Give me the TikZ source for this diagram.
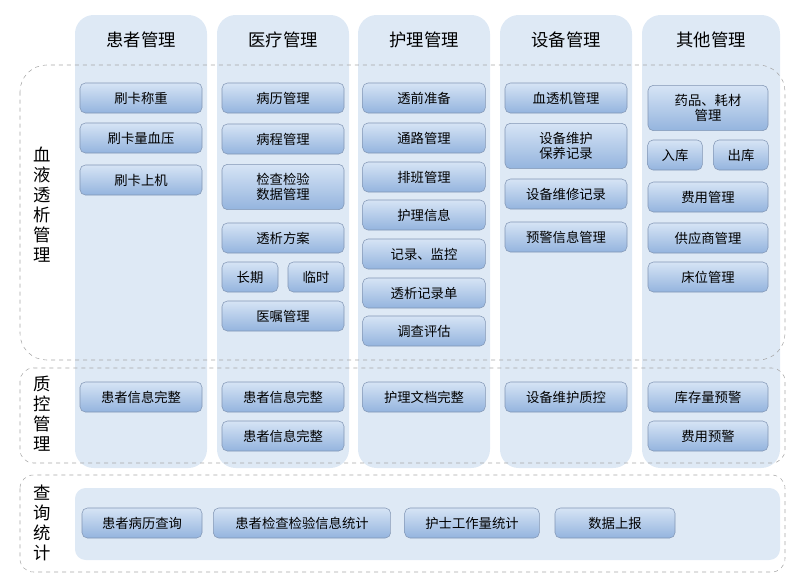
\documentclass[tikz,border=0pt]{standalone}
\usepackage{fontspec}
\setmainfont{Noto Sans CJK SC}
\usetikzlibrary{positioning}
\definecolor{colbg}{RGB}{222,233,245}
\definecolor{boxtop}{RGB}{214,228,245}
\definecolor{boxbot}{RGB}{148,180,222}
\definecolor{boxdraw}{RGB}{130,150,180}
\tikzset{
  item/.style={draw=boxdraw, rounded corners=4pt, top color=boxtop, bottom color=boxbot,
    minimum height=22.5pt, align=center, font=\fontsize{10}{11}\selectfont, inner sep=1pt},
  tallitem/.style={item, minimum height=34pt},
  column/.style={fill=colbg, rounded corners=14pt},
  region/.style={draw=gray!70, dashed, rounded corners=20pt},
  head/.style={font=\fontsize{13}{14}\selectfont},
  side/.style={font=\fontsize{13}{15}\selectfont, align=center, text width=14pt}
}
\begin{document}
\begin{tikzpicture}[x=0.75pt,y=0.75pt,yscale=-1,xscale=1]
\useasboundingbox (0,0) rectangle (800,586);

% columns
\foreach \xa/\xb in {75/207, 217/349, 358/490, 500/632, 642/780}
  \fill[column] (\xa,15) rectangle (\xb,468);
\node[head] (h1) at (141,40) {患者管理};
\node[head] (h2) at (283,40) {医疗管理};
\node[head] (h3) at (424,40) {护理管理};
\node[head] (h4) at (566,40) {设备管理};
\node[head] (h5) at (711,40) {其他管理};

% regions
\draw[region] (20,65) rectangle (785,360);
\draw[region, rounded corners=10pt] (20,368) rectangle (785,463);
\draw[region, rounded corners=10pt] (20,475) rectangle (785,572);
\fill[colbg, rounded corners=8pt] (75,488) rectangle (780,560);

\node[side] (s1) at (42,205) {血\\液\\透\\析\\管\\理};
\node[side] (s2) at (42,414) {质\\控\\管\\理};
\node[side] (s3) at (42,523) {查\\询\\统\\计};

% patient
\node[item, minimum width=91.5pt] (p1) at (141,98) {刷卡称重};
\node[item, minimum width=91.5pt] (p2) at (141,138) {刷卡量血压};
\node[item, minimum width=91.5pt] (p3) at (141,180) {刷卡上机};
\node[item, minimum width=91.5pt] (pq) at (141,397) {患者信息完整};

% medical
\node[item, minimum width=91.5pt] (m1) at (283,98) {病历管理};
\node[item, minimum width=91.5pt] (m2) at (283,139) {病程管理};
\node[tallitem, minimum width=91.5pt] (m3) at (283,187) {检查检验\\数据管理};
\node[item, minimum width=91.5pt] (m4) at (283,238) {透析方案};
\node[item, minimum width=42pt] (m5) at (250,277) {长期};
\node[item, minimum width=42pt] (m6) at (316,277) {临时};
\node[item, minimum width=91.5pt] (m7) at (283,316) {医嘱管理};
\node[item, minimum width=91.5pt] (mq1) at (283,397) {患者信息完整};
\node[item, minimum width=91.5pt] (mq2) at (283,436) {患者信息完整};

% nursing
\node[item, minimum width=92pt] (n1) at (424,98) {透前准备};
\node[item, minimum width=92pt] (n2) at (424,138) {通路管理};
\node[item, minimum width=92pt] (n3) at (424,177) {排班管理};
\node[item, minimum width=92pt] (n4) at (424,215) {护理信息};
\node[item, minimum width=92pt] (n5) at (424,254) {记录、监控};
\node[item, minimum width=92pt] (n6) at (424,293) {透析记录单};
\node[item, minimum width=92pt] (n7) at (424,331) {调查评估};
\node[item, minimum width=92pt] (nq) at (424,397) {护理文档完整};

% equipment
\node[item, minimum width=91.5pt] (e1) at (566,98) {血透机管理};
\node[tallitem, minimum width=91.5pt] (e2) at (566,146) {设备维护\\保养记录};
\node[item, minimum width=91.5pt] (e3) at (566,194) {设备维修记录};
\node[item, minimum width=91.5pt] (e4) at (566,237) {预警信息管理};
\node[item, minimum width=91.5pt] (eq) at (566,397) {设备维护质控};

% other
\node[tallitem, minimum width=90pt] (o1) at (708,108) {药品、耗材\\管理};
\node[item, minimum width=41pt] (o2) at (675,155) {入库};
\node[item, minimum width=41pt] (o3) at (741,155) {出库};
\node[item, minimum width=90pt] (o4) at (708,197) {费用管理};
\node[item, minimum width=90pt] (o5) at (708,238) {供应商管理};
\node[item, minimum width=90pt] (o6) at (708,277) {床位管理};
\node[item, minimum width=90pt] (oq1) at (708,397) {库存量预警};
\node[item, minimum width=90pt] (oq2) at (708,436) {费用预警};

% query
\node[item, minimum width=90pt] (q1) at (142,523) {患者病历查询};
\node[item, minimum width=133pt] (q2) at (302,523) {患者检查检验信息统计};
\node[item, minimum width=101pt] (q3) at (472,523) {护士工作量统计};
\node[item, minimum width=90pt] (q4) at (615,523) {数据上报};
\end{tikzpicture}
\end{document}
